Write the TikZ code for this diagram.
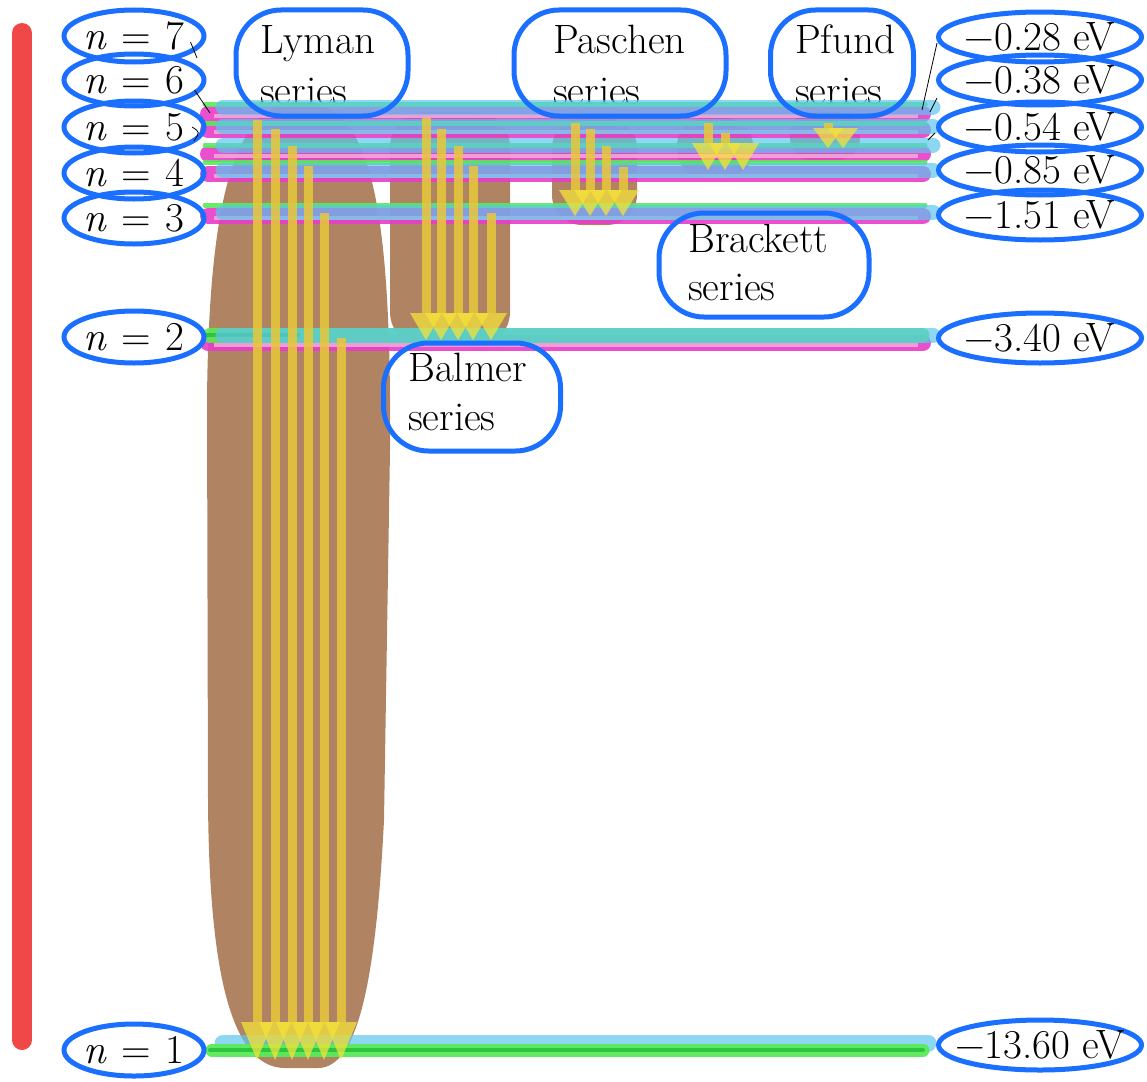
\documentclass[tikz,border=0pt]{standalone}
\usepackage{fontspec}
\usetikzlibrary{shapes.geometric}
\definecolor{lblue}{HTML}{1A6FFF}
\definecolor{redbar}{HTML}{F04848}
\definecolor{brownb}{HTML}{B08462}
\definecolor{pinkl}{HTML}{E83CC8}
\definecolor{pinkc}{HTML}{F2A6DA}
\definecolor{greenl}{HTML}{5AEA5A}
\definecolor{greend}{HTML}{2FC43F}
\definecolor{cyanl}{HTML}{5CC6EE}
\definecolor{shaftc}{HTML}{E8C83A}
\definecolor{headc}{HTML}{F4E23A}
\newcommand\emitline[5]{%
  \fill[shaft] ({#1-4.5},#2) rectangle ({#1+4.5},#3);
  \fill[head] ({#1-#5},#3) -- ({#1+#5},#3) -- (#1,#4) -- cycle;}
\tikzset{
  bigfont/.style={font=\fontsize{41}{47}\selectfont},
  lab/.style={ellipse, draw=lblue, line width=5pt, inner sep=0pt,
    minimum width=140pt, minimum height=52pt},
  elab/.style={lab, minimum width=203pt, minimum height=50pt},
  ltext/.style={bigfont, inner sep=0pt},
  sbox/.style={draw=lblue, line width=5pt, rounded corners=45pt, inner sep=0pt},
  stext/.style={bigfont, anchor=base west, inner sep=0pt},
  pinkband/.style={draw=pinkl, line width=16pt, line cap=round, draw opacity=0.9},
  pinkcore/.style={draw=pinkc, line width=4pt, draw opacity=0.9},
  greenband/.style={draw=greenl, line width=5pt, line cap=round, draw opacity=0.9},
  cyanband/.style={draw=cyanl, line width=15pt, line cap=round, draw opacity=0.7},
  shaft/.style={fill=shaftc, fill opacity=0.85},
  head/.style={fill=headc, fill opacity=0.75},
  leader/.style={draw=black, line width=0.8pt}
}
\begin{document}
\begin{tikzpicture}[x=1pt,y=-1pt]
\useasboundingbox (0,0) rectangle (1147,1081);
% red bar
\draw[redbar, line width=20pt, line cap=round] (22,33) -- (22,1040);
% brown blobs
\fill[brownb] (300,102) .. controls (240,102) and (209,180) .. (207,400)
  -- (208,800) .. controls (209,960) and (228,1068) .. (285,1068)
  -- (318,1068) .. controls (358,1068) and (376,980) .. (384,820)
  -- (390,450) .. controls (392,180) and (365,102) .. (300,102) -- cycle;
\fill[brownb, rounded corners=35pt] (390,112) rectangle (510,347);
\fill[brownb, rounded corners=30pt] (552,118) rectangle (637,225);
\fill[brownb, rounded corners=28pt] (677,118) rectangle (753,178);
\fill[brownb, rounded corners=22pt] (790,112) rectangle (860,160);
% series texts
\node[stext] (lyt1) at (260,53) {Lyman};
\node[stext] (lyt2) at (260,104) {series};
\node[stext] (pat1) at (553,53) {Paschen};
\node[stext] (pat2) at (553,104) {series};
\node[stext] (pft1) at (795,53) {Pfund};
\node[stext] (pft2) at (795,104) {series};
\node[stext] (brt1) at (688,252) {Brackett};
\node[stext] (brt2) at (688,300) {series};
\node[stext] (bat1) at (408,381) {Balmer};
\node[stext] (bat2) at (408,430) {series};
% level bands
\foreach \p in {114,130,154,174,216,343}{
  \draw[pinkband] (208,\p) -- (923,\p);
  \draw[pinkcore] (214,\p+2) -- (918,\p+2);
}
\foreach \g in {104,123,145,162,205}{
  \draw[greenband] (205,\g) -- (925,\g);
}
\draw[draw=greenl, line width=15pt, line cap=round, draw opacity=0.9] (210,335) -- (922,335);
\draw[draw=greend, line width=4pt] (205,335) -- (300,335);
\foreach \c in {107,126,145,170,212,335}{
  \draw[cyanband] (223,\c) -- (933,\c);
}
% n = 1 level
\draw[cyanband, line width=17pt] (223,1043) -- (928,1043);
\draw[draw=greenl, line width=13pt, line cap=round, draw opacity=0.95] (212,1050) -- (923,1050);
\draw[draw=greend, line width=4pt, line cap=round] (210,1050) -- (923,1050);
% transitions
% Lyman
\emitline{257}{120}{1022}{1060}{16}
\emitline{275}{129}{1022}{1060}{16}
\emitline{292}{146}{1022}{1060}{16}
\emitline{308}{166}{1022}{1060}{16}
\emitline{324}{213}{1022}{1060}{16}
\emitline{341}{338}{1022}{1060}{16}
% Balmer
\emitline{426}{118}{313}{340}{16}
\emitline{441}{129}{313}{340}{16}
\emitline{458}{146}{313}{340}{16}
\emitline{473}{166}{313}{340}{16}
\emitline{491}{213}{313}{340}{16}
% Paschen
\emitline{575}{123}{190}{216}{16}
\emitline{590}{129}{190}{216}{16}
\emitline{606}{146}{190}{216}{16}
\emitline{623}{167}{190}{216}{16}
% Brackett
\emitline{708}{123}{143}{170}{16}
\emitline{725}{133}{143}{170}{16}
\emitline{743}{143}{143}{170}{16}
% Pfund
\emitline{828}{123}{128}{148}{15}
\emitline{843}{128}{128}{148}{15}
% left labels
\foreach \n/\y in {7/36,6/80,5/127,4/173,3/218,2/337,1/1050}{
  \node[lab] (L\n) at (134,\y) {};
  \node[ltext] (LT\n) at (L\n.center) {\textit{n}\hspace{0.35em}=\hspace{0.35em}\n};
}
% right labels
\foreach \e/\y [count=\i] in {0.28/37,0.38/80,0.54/127,0.85/170,1.51/215,3.40/338,13.60/1045}{
  \node[elab] (R\i) at (1040,\y) {};
  \node[ltext] (RT\i) at (R\i.center) {−\e\ eV};
}
% leader lines
\coordinate (l7e) at (197,58);
\coordinate (l6e) at (210,113);
\draw[leader] (L7.east) ++(-16,6) -- (l7e);
\draw[leader] (L6.east) ++(-12,10) -- (l6e);
\draw[leader] (192,127) .. controls (200,132) .. (194,141);
\coordinate (r7e) at (922,110);
\coordinate (r6e) at (930,112);
\coordinate (r5e) at (928,140);
\draw[leader] (R1.west) ++(1,6) -- (r7e);
\draw[leader] (R2.west) ++(1,18) -- (r6e);
\draw[leader] (R3.west) ++(-1,6) -- (r5e);
% series boxes
\node[sbox, minimum width=172pt, minimum height=106pt] (lyman) at (322,63) {};
\node[sbox, minimum width=212pt, minimum height=106pt] (paschen) at (620,63) {};
\node[sbox, minimum width=143pt, minimum height=106pt] (pfund) at (842,63) {};
\node[sbox, minimum width=210pt, minimum height=104pt] (brackett) at (764,265) {};
\node[sbox, minimum width=177pt, minimum height=108pt] (balmer) at (472,397) {};
\end{tikzpicture}
\end{document}
